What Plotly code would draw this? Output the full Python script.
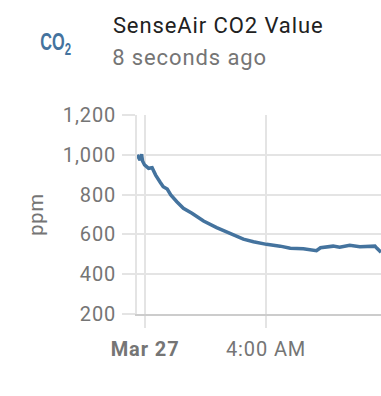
import plotly.graph_objects as go

times = ["2023-03-26 23:44", "2023-03-26 23:50", "2023-03-26 23:53", "2023-03-26 23:55", "2023-03-26 23:59",
         "2023-03-27 00:07", "2023-03-27 00:14", "2023-03-27 00:21", "2023-03-27 00:30", "2023-03-27 00:36",
         "2023-03-27 00:44", "2023-03-27 00:51", "2023-03-27 01:03", "2023-03-27 01:16", "2023-03-27 01:33",
         "2023-03-27 01:56", "2023-03-27 02:22", "2023-03-27 02:55", "2023-03-27 03:15", "2023-03-27 03:35",
         "2023-03-27 04:01", "2023-03-27 04:28", "2023-03-27 04:48", "2023-03-27 05:14", "2023-03-27 05:40",
         "2023-03-27 05:48", "2023-03-27 06:13", "2023-03-27 06:26", "2023-03-27 06:46", "2023-03-27 07:06",
         "2023-03-27 07:36", "2023-03-27 07:40", "2023-03-27 07:46", "2023-03-27 07:48"]
co2 = [999, 974, 1003, 969, 949, 932, 935, 898, 862, 840, 828, 798, 764, 731, 706,
       667, 634, 600, 576, 563, 550, 541, 530, 528, 518, 533, 541, 535, 545, 538,
       541, 530, 513, 510]
x_ticks = ["2023-03-27 00:00", "2023-03-27 04:00"]
x_labels = ["<b>Mar 27</b>", "4:00 AM"]
x_range = ["2023-03-26 23:44", "2023-03-27 07:48"]
y_ticks = [200, 400, 600, 800, 1000, 1200]

BLUE = "#44739e"
GRID = "#e4e4e4"
TEXT = "#757575"
FONT = "Roboto"

fig = go.Figure(go.Scatter(x=times, y=co2, mode="lines",
                           line=dict(color=BLUE, width=3.5), hoverinfo="skip"))
fig.update_layout(
    width=381, height=396, autosize=False, showlegend=False,
    margin=dict(l=137, r=0, t=115, b=82),
    paper_bgcolor="white", plot_bgcolor="white",
    font=dict(family=FONT, color=TEXT, size=20),
    xaxis=dict(range=x_range, type="date", tickmode="array", tickvals=x_ticks, ticktext=x_labels,
               showgrid=True, gridcolor=GRID, gridwidth=1.5, zeroline=False,
               ticks="outside", ticklen=12, tickcolor=GRID, tickwidth=1.5,
               showline=True, linecolor="#cccccc", linewidth=1.5,
               tickfont=dict(family=FONT, size=20, color=TEXT), ticklabelstandoff=4),
    yaxis=dict(range=[200, 1200], tickmode="array", tickvals=y_ticks, tickformat=",d",
               showgrid=True, gridcolor=GRID, gridwidth=1.5, zeroline=False,
               ticks="outside", ticklen=13, tickcolor=GRID, tickwidth=1.5,
               showline=True, linecolor=GRID, linewidth=1.5,
               tickfont=dict(family=FONT, size=20, color=TEXT), ticklabelstandoff=2,
               title=dict(text="ppm", font=dict(family=FONT, size=20, color=TEXT), standoff=18)),
    annotations=[
        dict(text="SenseAir CO2 Value", xref="paper", yref="paper", x=(119-137)/244, y=(314-25)/199,
             xanchor="left", yanchor="middle", showarrow=False,
             font=dict(family=FONT, size=22, color="#212121")),
        dict(text="8 seconds ago", xref="paper", yref="paper", x=(116-137)/244, y=(314-57)/199,
             xanchor="left", yanchor="middle", showarrow=False,
             font=dict(family=FONT, size=22, color=TEXT)),
        dict(text="<b>CO<sub>2</sub></b>", xref="paper", yref="paper", x=(55-137)/244, y=(314-43)/199,
             xanchor="center", yanchor="middle", showarrow=False,
             font=dict(family="Liberation Sans", size=24, color=BLUE)),
    ],
)
post = """
document.body.style.margin = '0';
document.querySelectorAll('svg text').forEach(function (t) {
  var s = t.textContent;
  if (s.indexOf('CO') === 0 && s.length <= 5) {
    var b = t.getBBox();
    var cx = b.x + b.width / 2;
    t.setAttribute('transform', 'translate(' + cx + ' 0) scale(0.68 1) translate(' + (-cx) + ' 0)');
  } else if (s) { t.style.letterSpacing = '0.9px'; }
});
"""
fig.write_html("out.html", post_script=post, config={"displayModeBar": False})
